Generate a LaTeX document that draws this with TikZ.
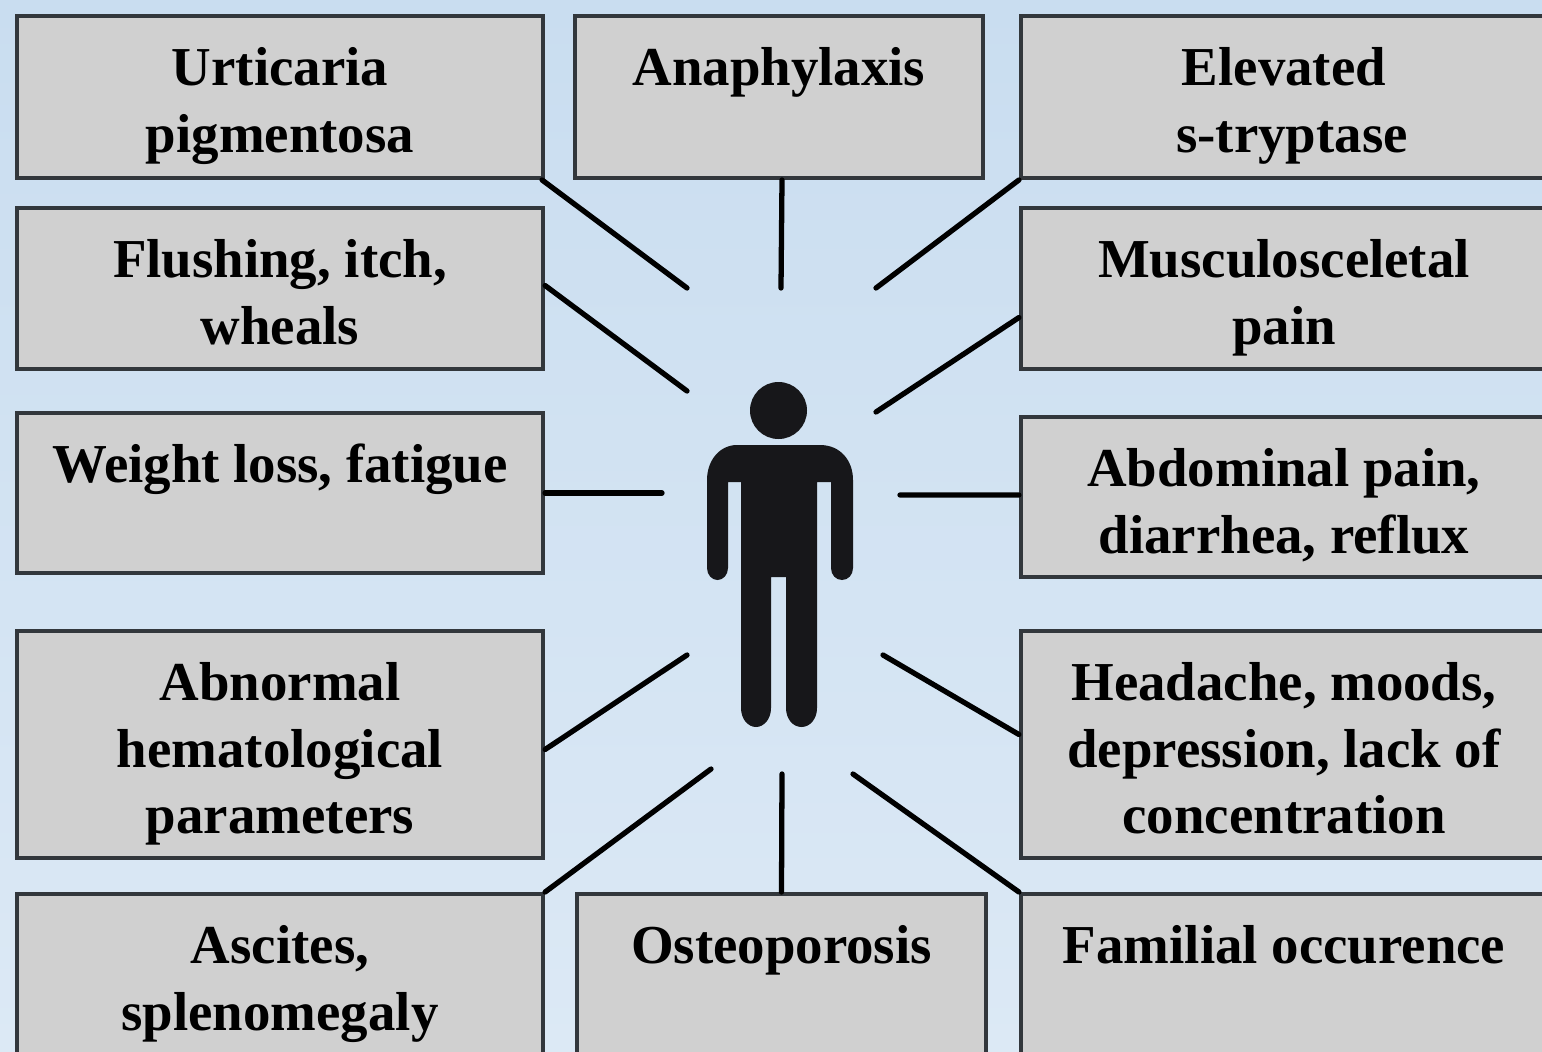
\documentclass[tikz,border=0pt]{standalone}
\usepackage{fontspec}
\setmainfont{Liberation Serif}
\usetikzlibrary{calc}
\definecolor{boxgray}{RGB}{208,208,208}
\definecolor{boxline}{RGB}{50,55,60}
\definecolor{skytop}{RGB}{201,221,240}
\definecolor{skybottom}{RGB}{220,233,245}
\definecolor{personblack}{RGB}{23,23,26}
\newcommand{\symptomtext}[3]{\parbox[c][#2][t]{#1}{\centering\rule{0pt}{19.8pt}#3}}
\tikzset{
    symptom/.style={draw=boxline, fill=boxgray, line width=1.1pt, inner sep=0pt,
        font=\fontsize{15.6}{18.9}\selectfont\bfseries, text=black},
    spoke/.style={black, line width=1.5pt, line cap=round},
}

\begin{document}
\begin{tikzpicture}[x=0.01cm, y=-0.01cm]
    \useasboundingbox (0,0) rectangle (1542,1051);
    \clip (0,0) rectangle (1542,1051);
    \shade[top color=skytop, bottom color=skybottom] (0,0) rectangle (1542,1051);

    % LEFT column
    \node[symptom] (urticaria) at (280,97) {\symptomtext{5.26cm}{1.62cm}{Urticaria\\pigmentosa}};
    \node[symptom] (flushing) at (280,288.5) {\symptomtext{5.26cm}{1.61cm}{Flushing, itch,\\wheals}};
    \node[symptom] (weight) at (280,493) {\symptomtext{5.26cm}{1.60cm}{Weight loss, fatigue}};
    \node[symptom] (abnormal) at (280,744.5) {\symptomtext{5.26cm}{2.27cm}{Abnormal\\hematological\\parameters}};
    \node[symptom] (ascites) at (280,975) {\symptomtext{5.26cm}{1.62cm}{Ascites,\\splenomegaly}};

    % MIDDLE column
    \node[symptom] (anaphylaxis) at (779,97) {\symptomtext{4.08cm}{1.62cm}{Anaphylaxis}};
    \node[symptom] (osteoporosis) at (781.5,975) {\symptomtext{4.09cm}{1.62cm}{Osteoporosis}};

    % RIGHT column
    \node[symptom] (elevated) at (1284,97) {\symptomtext{5.26cm}{1.62cm}{Elevated\\\hspace*{0.16cm}s-tryptase}};
    \node[symptom] (muscle) at (1284,288.5) {\symptomtext{5.26cm}{1.61cm}{Musculosceletal\\pain}};
    \node[symptom] (abdominal) at (1284,497) {\symptomtext{5.26cm}{1.60cm}{Abdominal pain,\\diarrhea, reflux}};
    \node[symptom] (headache) at (1284,744.5) {\symptomtext{5.26cm}{2.27cm}{Headache, moods,\\depression, lack of\\concentration}};
    \node[symptom] (familial) at (1284,975) {\symptomtext{5.26cm}{1.62cm}{Familial occurence}};

    % free ends around the person
    \coordinate (eurticaria) at (687,288);
    \coordinate (eanaphylaxis) at (781,288);
    \coordinate (eelevated) at (876,288);
    \coordinate (eflushing) at (687,391);
    \coordinate (emuscle) at (876,412);
    \coordinate (eweight) at (662,493);
    \coordinate (eabdominal) at (900,495);
    \coordinate (eabnormal) at (687,655);
    \coordinate (eheadache) at (883,655);
    \coordinate (eascites) at (711,769);
    \coordinate (eosteoporosis) at (782,774);
    \coordinate (efamilial) at (853,774);

    \draw[spoke] ([xshift=-0.03cm]urticaria.south east) -- (eurticaria);
    \draw[spoke] ([xshift=0.03cm]anaphylaxis.south) -- (eanaphylaxis);
    \draw[spoke] (elevated.south west) -- (eelevated);
    \draw[spoke] ([yshift=0.03cm]flushing.east) -- (eflushing);
    \draw[spoke] ([yshift=-0.29cm]muscle.west) -- (emuscle);
    \draw[spoke] (weight.east) -- (eweight);
    \draw[spoke] ([yshift=0.02cm]abdominal.west) -- (eabdominal);
    \draw[spoke] ([yshift=-0.05cm]abnormal.east) -- (eabnormal);
    \draw[spoke] ([yshift=0.10cm]headache.west) -- (eheadache);
    \draw[spoke] (ascites.north east) -- (eascites);
    \draw[spoke] (osteoporosis.north) -- (eosteoporosis);
    \draw[spoke] (familial.north west) -- (efamilial);

    % person
    \fill[personblack] (778.5,410.5) circle (28.5);
    \fill[personblack] (737,445) -- (820,445)
        .. controls (840,445) and (853,460) .. (853,480) -- (853,568)
        .. controls (853,575) and (848,580) .. (842,580)
        .. controls (836,580) and (831,575) .. (831,568) -- (831,482) -- (817,482) -- (817,708)
        .. controls (817,719) and (810,727) .. (801.5,727)
        .. controls (793,727) and (786,719) .. (786,708) -- (786,577) -- (771,577) -- (771,708)
        .. controls (771,719) and (764,727) .. (756,727)
        .. controls (748,727) and (741,719) .. (741,708) -- (741,482) -- (728,482) -- (728,568)
        .. controls (728,575) and (723,580) .. (717.5,580)
        .. controls (712,580) and (707,575) .. (707,568) -- (707,480)
        .. controls (707,460) and (720,445) .. (737,445) -- cycle;
\end{tikzpicture}
\end{document}
